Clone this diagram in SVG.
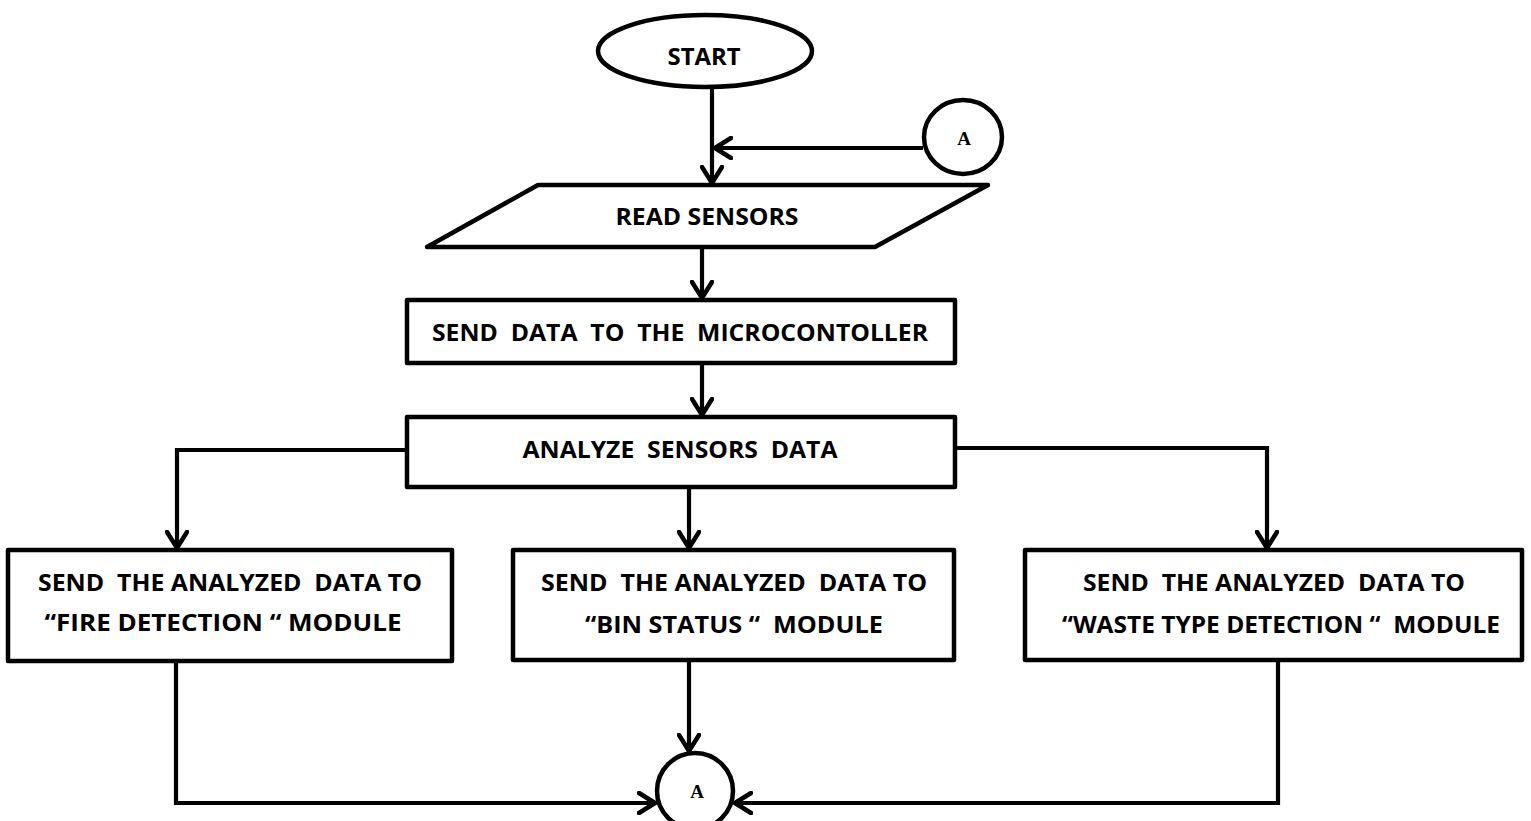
<svg xmlns="http://www.w3.org/2000/svg" width="1531" height="821" viewBox="0 0 1531 821">
<style>
.shape{fill:#fff;stroke:#000;stroke-width:4.5;stroke-linejoin:round}
.conn{fill:none;stroke:#000;stroke-width:4.2;stroke-linejoin:miter}
.lbl{font-family:"Open Sans",Lato,"Liberation Sans",sans-serif;font-weight:bold;font-size:23px;fill:#000;text-anchor:middle}
.con{font-family:"Liberation Serif","Times New Roman",serif;font-weight:bold;font-size:19px;fill:#000;text-anchor:middle}
</style>
<defs>
<marker id="arr" viewBox="0 0 20 24" refX="19" refY="12" markerWidth="20" markerHeight="24" markerUnits="userSpaceOnUse" orient="auto">
<path d="M2,2 L18,12 L2,22" fill="none" stroke="#000" stroke-width="4.5" stroke-linecap="round" stroke-linejoin="miter"/>
</marker>
</defs>
<rect width="1531" height="821" fill="#fff"/>
<g id="connectors">
<path class="conn" d="M712,87 L712,184" marker-end="url(#arr)"/>
<path class="conn" d="M923,148 L714,148" marker-end="url(#arr)"/>
<path class="conn" d="M702,247 L702,299" marker-end="url(#arr)"/>
<path class="conn" d="M702,363 L702,416" marker-end="url(#arr)"/>
<path class="conn" d="M407,450 L177,450 L177,549" marker-end="url(#arr)"/>
<path class="conn" d="M689,487 L689,549" marker-end="url(#arr)"/>
<path class="conn" d="M955,448 L1267,448 L1267,549" marker-end="url(#arr)"/>
<path class="conn" d="M176,661 L176,803 L656,803" marker-end="url(#arr)"/>
<path class="conn" d="M689,660 L689,752" marker-end="url(#arr)"/>
<path class="conn" d="M1278,660 L1278,803 L734,803" marker-end="url(#arr)"/>
</g>
<g id="start">
<ellipse class="shape" cx="705" cy="51" rx="107" ry="36"/>
<text class="lbl" x="704" y="65" textLength="73" lengthAdjust="spacingAndGlyphs">START</text>
</g>
<g id="connA-top">
<ellipse class="shape" cx="963" cy="137" rx="39" ry="37"/>
<text class="con" x="964" y="145">A</text>
</g>
<g id="read">
<polygon class="shape" points="538,185 988,185 875,247 427,247"/>
<text class="lbl" x="707" y="225" textLength="183" lengthAdjust="spacingAndGlyphs">READ SENSORS</text>
</g>
<g id="send">
<rect class="shape" x="407" y="300" width="548" height="63"/>
<text class="lbl" x="680" y="341" textLength="496" lengthAdjust="spacingAndGlyphs" xml:space="preserve">SEND  DATA  TO  THE  MICROCONTOLLER</text>
</g>
<g id="analyze">
<rect class="shape" x="407" y="417" width="548" height="70"/>
<text class="lbl" x="680" y="458" textLength="315" lengthAdjust="spacingAndGlyphs" xml:space="preserve">ANALYZE  SENSORS  DATA</text>
</g>
<g id="fire">
<rect class="shape" x="8" y="550" width="444" height="111"/>
<text class="lbl" x="230" y="591" textLength="384" lengthAdjust="spacingAndGlyphs" xml:space="preserve">SEND  THE ANALYZED  DATA TO</text>
<text class="lbl" x="223" y="631" textLength="357" lengthAdjust="spacingAndGlyphs">“FIRE DETECTION “ MODULE</text>
</g>
<g id="bin">
<rect class="shape" x="513" y="550" width="441" height="110"/>
<text class="lbl" x="734" y="591" textLength="386" lengthAdjust="spacingAndGlyphs" xml:space="preserve">SEND  THE ANALYZED  DATA TO</text>
<text class="lbl" x="734" y="633" textLength="298" lengthAdjust="spacingAndGlyphs" xml:space="preserve">“BIN STATUS “  MODULE</text>
</g>
<g id="waste">
<rect class="shape" x="1025" y="550" width="497" height="110"/>
<text class="lbl" x="1274" y="591" textLength="382" lengthAdjust="spacingAndGlyphs" xml:space="preserve">SEND  THE ANALYZED  DATA TO</text>
<text class="lbl" x="1281" y="633" textLength="438" lengthAdjust="spacingAndGlyphs" xml:space="preserve">“WASTE TYPE DETECTION “  MODULE</text>
</g>
<g id="connA-bottom">
<ellipse class="shape" cx="695" cy="791" rx="38" ry="38"/>
<text class="con" x="697" y="798">A</text>
</g>
</svg>
